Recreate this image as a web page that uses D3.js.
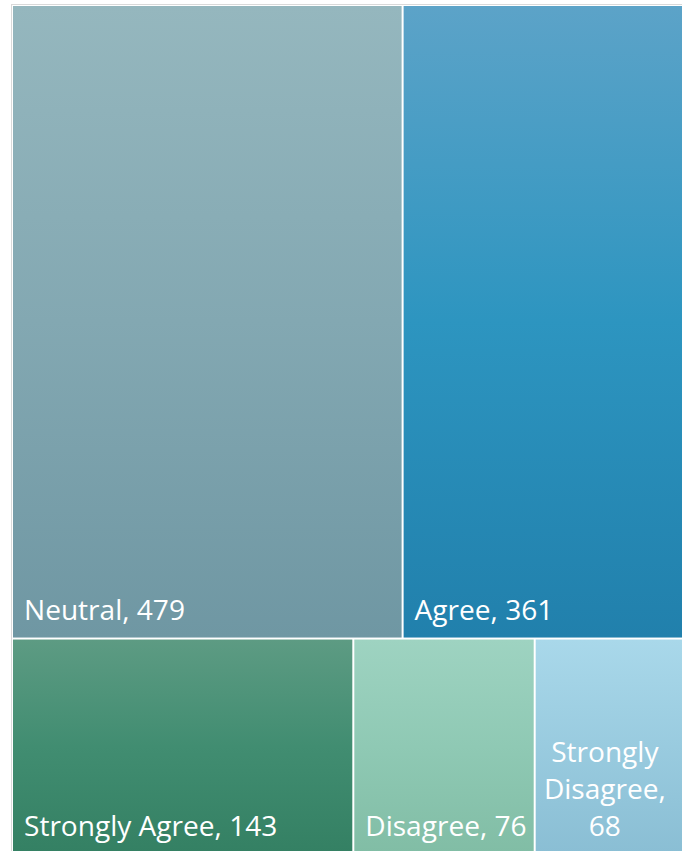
<!DOCTYPE html>
<html><head><meta charset="utf-8">
<script src="https://cdn.jsdelivr.net/npm/d3@7"></script>
<style>html,body{margin:0;padding:0;background:#fff;overflow:hidden}</style>
</head><body>
<svg id="chart" width="682" height="851"></svg>
<script>
const categories = ["Neutral", "Agree", "Strongly Agree", "Disagree", "Strongly Disagree"];
const values = [479, 361, 143, 76, 68];
const rowOf = [0, 0, 1, 1, 1];
const topColors = ["#95b7be", "#5ca3c8", "#5d9b83", "#9ed3c1", "#a9d8ea"];
const midColors = ["#83a8b2", "#2d95c0", "#418d71", "#8fc9b4", "#99cbdf"];
const botColors = ["#6f97a3", "#2180ac", "#348063", "#81bda5", "#8abed4"];

const W = 682, H = 851;
const svg = d3.select("#chart");
const defs = svg.append("defs");

const rows = [0, 1].map(r => ({
  name: "row" + r,
  children: categories.map((c, i) => ({name: c, value: values[i], idx: i})).filter(d => rowOf[d.idx] === r)
}));
const root = d3.hierarchy({name: "root", children: rows}).sum(d => d.value || 0);

const tile = (node, x0, y0, x1, y1) => {
  if (node.depth === 0) d3.treemapSlice(node, x0, y0, x1, y1);
  else d3.treemapDice(node, x0, y0, x1, y1);
};
d3.treemap().tile(tile).size([683, 848]).paddingInner(2).round(false)(root);

svg.append("rect").attr("x", 11.5).attr("y", 4.5).attr("width", 700).attr("height", 900)
  .attr("fill", "none").attr("stroke", "#d9d9d9").attr("stroke-width", 1);

const g = svg.append("g").attr("transform", "translate(13,6)");
const leaves = root.leaves();
leaves.forEach(d => {
  const i = d.data.idx;
  const gr = defs.append("linearGradient").attr("id", "grad" + i)
    .attr("x1", 0).attr("y1", 0).attr("x2", 0).attr("y2", 1);
  gr.append("stop").attr("offset", "0%").attr("stop-color", topColors[i]);
  gr.append("stop").attr("offset", "50%").attr("stop-color", midColors[i]);
  gr.append("stop").attr("offset", "100%").attr("stop-color", botColors[i]);
});

g.selectAll("rect.cell").data(leaves).join("rect").attr("class", "cell")
  .attr("x", d => d.x0).attr("y", d => d.y0)
  .attr("width", d => d.x1 - d.x0).attr("height", d => d.y1 - d.y0)
  .attr("fill", d => `url(#grad${d.data.idx})`);

const font = "'Open Sans', sans-serif";
// size the font so that the first label spans the width seen in the reference
const probe = svg.append("text").attr("font-family", font).attr("font-size", 100).text("Neutral, 479");
const fs = 100 * 161 / probe.node().getComputedTextLength();
probe.remove();

leaves.forEach(d => {
  const label = `${d.data.name}, ${d.value}`;
  const visW = Math.min(d.x1, W - 13) - d.x0;
  const t = g.append("text").attr("fill", "#fff").attr("font-family", font)
    .attr("font-size", fs);
  if (d.data.name === "Strongly Disagree") {
    const lines = ["Strongly", "Disagree,", String(d.value)];
    const cx = d.x0 + (visW - 8) / 2;
    t.attr("text-anchor", "middle");
    lines.forEach((ln, k) => {
      t.append("tspan").attr("x", cx).attr("y", d.y1 - 18 - (lines.length - 1 - k) * 37).text(ln);
    });
  } else {
    t.attr("x", d.x0 + 11).attr("y", d.y1 - 18).text(label);
  }
});
</script>
</body></html>
